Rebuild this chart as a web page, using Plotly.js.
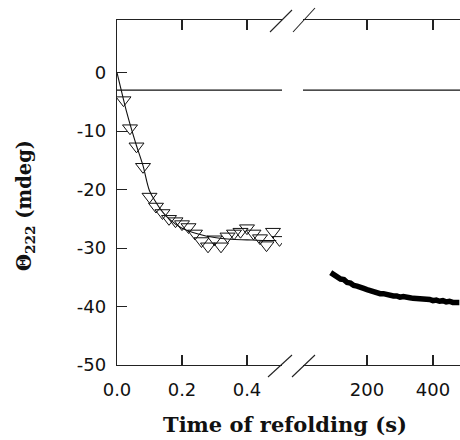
<!DOCTYPE html>
<html>
<head>
<meta charset="utf-8">
<script src="https://cdn.plot.ly/plotly-3.0.1.min.js"></script>
<style>html,body{margin:0;padding:0;background:#fff;}#chart{width:460px;height:440px;}</style>
</head>
<body>
<div id="chart"></div>
<script>
// Fast phase (left panel): time (s) and Θ222 (mdeg)
const fastTime = [0.02,0.04,0.06,0.08,0.10,0.12,0.14,0.16,0.18,0.20,0.22,0.24,0.26,0.28,0.30,0.32,0.34,0.36,0.38,0.40,0.42,0.44,0.46,0.48,0.50];
const fastSignal = [-4.7,-9.5,-12.6,-16.1,-21.2,-22.9,-24.0,-25.0,-25.4,-25.9,-26.4,-27.5,-28.8,-29.7,-28.5,-29.7,-28.0,-27.5,-27.2,-26.6,-27.5,-28.3,-29.5,-27.2,-28.6];
// Fitted curve
const fitTime = [0,0.01,0.02,0.03,0.04,0.05,0.06,0.08,0.10,0.12,0.14,0.16,0.20,0.25,0.30,0.35,0.40,0.45,0.49];
const fitSignal = [0,-2.3,-4.6,-6.8,-8.8,-10.7,-12.5,-15.9,-20.2,-22.2,-23.8,-25.0,-26.6,-27.6,-28.2,-28.5,-28.6,-28.7,-28.7];
// Slow phase (right panel)
const slowTime = [90,100,110,120,130,140,150,160,170,180,190,200,210,220,230,240,250,260,270,280,290,300,310,320,330,340,350,360,370,380,390,400,410,420,430,440,450,460,470,480];
const slowSignal = [-34.2,-34.6,-34.8,-35.3,-35.4,-35.9,-36.0,-36.4,-36.5,-36.8,-36.9,-37.1,-37.3,-37.4,-37.5,-37.8,-37.8,-38.0,-38.0,-38.2,-38.2,-38.4,-38.3,-38.5,-38.5,-38.6,-38.6,-38.8,-38.7,-38.8,-38.8,-39.0,-38.9,-39.1,-39.0,-39.2,-39.1,-39.3,-39.2,-39.3];
// Reference (unfolded) baseline
const baseline = -3;
const leftRange = [0, 0.5077];
const rightRange = [6, 482];
const yTickVals = [0,-10,-20,-30,-40,-50];
const yTickText = ["0","-10","-20","-30","-40","-50"];
const leftTickVals = [0,0.2,0.4];
const leftTickText = ["0.0","0.2","0.4"];
const rightTickVals = [200,400];
const rightTickText = ["200","400"];

const L = 117, R = 460, T = 20, B = 365;
const px = x => (x - L) / (R - L);
const py = y => (B - y) / (B - T);

const traces = [
  {x: leftRange, y: [baseline, baseline], xaxis:'x', yaxis:'y', mode:'lines', line:{color:'#111', width:1.1}, hoverinfo:'skip'},
  {x: rightRange, y: [baseline, baseline], xaxis:'x2', yaxis:'y', mode:'lines', line:{color:'#111', width:1.1}, hoverinfo:'skip'},
  {x: fitTime, y: fitSignal, xaxis:'x', yaxis:'y', mode:'lines', line:{color:'#111', width:1.1, shape:'spline'}},
  {x: fastTime, y: fastSignal, xaxis:'x', yaxis:'y', mode:'markers', marker:{symbol:'triangle-down-open', size:13, color:'#111', line:{width:1, color:'#111'}}},
  {x: slowTime, y: slowSignal, xaxis:'x2', yaxis:'y', mode:'lines', line:{color:'#000', width:5.5}}
];

const tickFont = {family:'DejaVu Sans', size:18, color:'#111'};
const axBase = {showline:true, linecolor:'#222', linewidth:1.2, ticks:'inside', ticklen:10, tickwidth:1.1, tickcolor:'#222', mirror:'ticks', showgrid:false, zeroline:false, tickfont:tickFont, tickmode:'array', fixedrange:true};

const slash = (x0,y0,x1,y1) => ({type:'line', xref:'paper', yref:'paper', x0:px(x0), y0:py(y0), x1:px(x1), y1:py(y1), line:{color:'#222', width:1.1}});

const layout = {
  width:460, height:440,
  margin:{l:L, r:0, t:T, b:440-B},
  paper_bgcolor:'#fff', plot_bgcolor:'#fff',
  showlegend:false,
  xaxis: Object.assign({}, axBase, {domain:[0, px(282)], range:leftRange, tickvals:leftTickVals, ticktext:leftTickText, anchor:'y', ticklabelstandoff:8}),
  xaxis2: Object.assign({}, axBase, {domain:[px(303), 1], range:rightRange, tickvals:rightTickVals, ticktext:rightTickText, anchor:'y', ticklabelstandoff:8}),
  yaxis: Object.assign({}, axBase, {range:[-50, 9], tickvals:yTickVals, ticktext:yTickText, mirror:false, ticklabelstandoff:6}),
  shapes:[
    slash(268,377,292,355), slash(292,377,315,355),
    slash(270,32,292,10), slash(293,32,315,8)
  ],
  annotations:[
    {text:'Time of refolding (s)', xref:'paper', yref:'paper', x:px(285), y:py(425), xanchor:'center', yanchor:'middle', showarrow:false, font:{family:'DejaVu Serif', size:21, color:'#111', weight:'bold'}},
    {text:'Θ<sub>222</sub> (mdeg)', xref:'paper', yref:'paper', x:px(25), y:py(206), xanchor:'center', yanchor:'middle', textangle:-90, showarrow:false, font:{family:'DejaVu Serif', size:19.5, color:'#111', weight:'bold'}}
  ]
};

Plotly.newPlot('chart', traces, layout, {staticPlot:true, displayModeBar:false});
</script>
</body>
</html>
